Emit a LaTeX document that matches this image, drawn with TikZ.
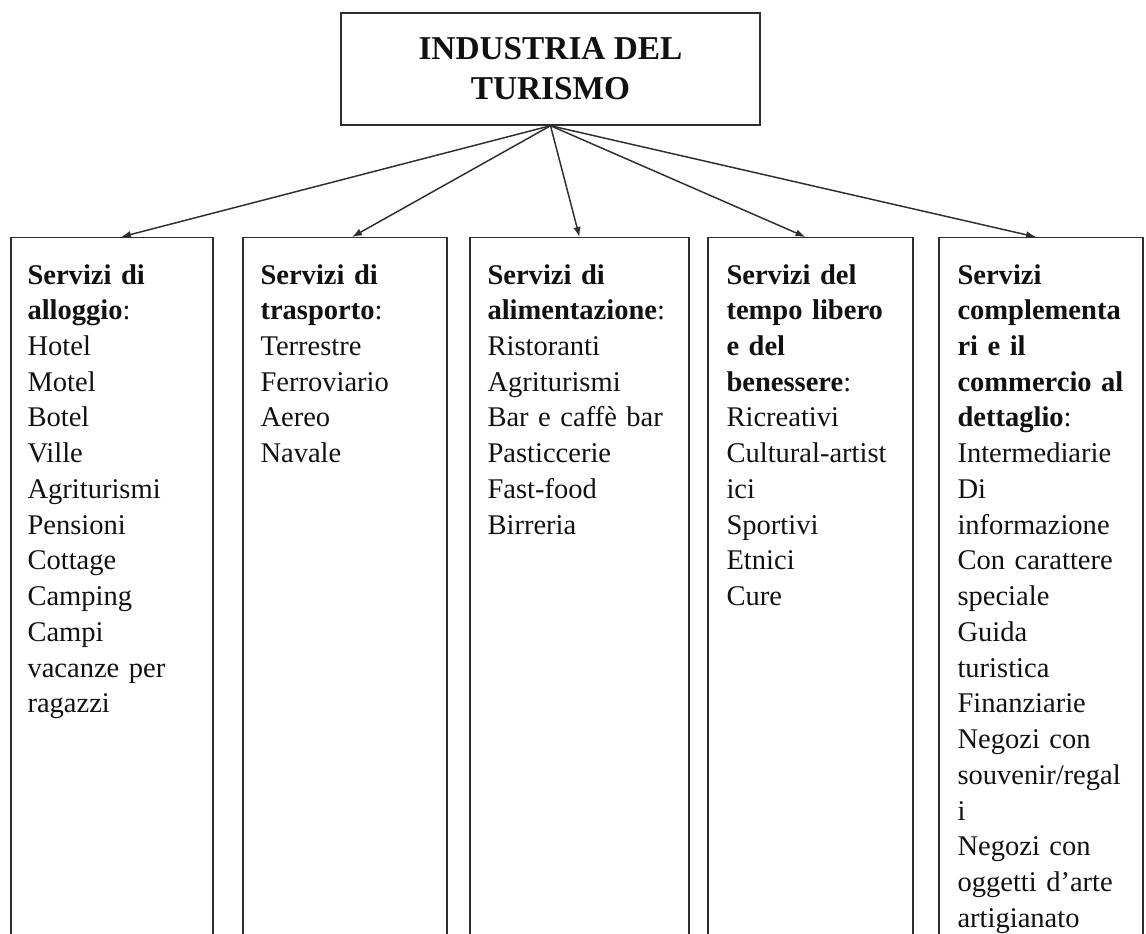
\documentclass[tikz,border=0pt]{standalone}
\usepackage{fontspec}
\setmainfont{Liberation Serif}
\usepackage{xcolor}
\usetikzlibrary{arrows.meta}
\definecolor{schemaink}{HTML}{111111}
\definecolor{schemaline}{HTML}{2E2E2E}

\begin{document}
\begin{tikzpicture}[x=0.75pt, y=-0.75pt, >={Latex[length=7.5pt,width=5.5pt]},
                    every node/.style={schemaink},
                    titolo/.style={draw=schemaline, line width=1.1pt, align=center,
                      minimum width=314.25pt, minimum height=84pt,
                      font=\fontsize{25pt}{30pt}\selectfont\bfseries},
                    colonna/.style={draw=schemaline, line width=1.1pt, anchor=north,
                      minimum height=600pt},
                    voce/.style={anchor=north west, inner sep=0pt, align=left,
                      font=\fontsize{21.4pt}{26.8pt}\selectfont},
                    freccia/.style={->, draw=schemaline, line width=1.1pt}]

  %% area visibile
  \clip (0,0) rectangle (1146,934);

  %% nodo principale
  \node[titolo] (turismo) at (550.5,69) {INDUSTRIA DEL\\TURISMO};

  %% colonne dei servizi
  \node[colonna, minimum width=151.5pt] (alloggio)    at (112,237) {};
  \node[colonna, minimum width=153pt]   (trasporto)   at (345,237) {};
  \node[colonna, minimum width=164.25pt] (alimentaz)  at (579.5,237) {};
  \node[colonna, minimum width=153.75pt] (tempolibero) at (810.5,237) {};
  \node[colonna, minimum width=153pt]   (complement)  at (1041,237) {};

  %% testi delle colonne
  \node[voce, text width=129pt] (alloggioTxt) at ([shift={(17,27)}]alloggio.north west)
    {\textbf{Servizi di}\\\textbf{alloggio}:\\Hotel\\Motel\\Botel\\Ville\\Agriturismi\\
     Pensioni\\Cottage\\Camping\\Campi\\vacanze per\\ragazzi};
  \node[voce, text width=130pt] (trasportoTxt) at ([shift={(18,27)}]trasporto.north west)
    {\textbf{Servizi di}\\\textbf{trasporto}:\\Terrestre\\Ferroviario\\Aereo\\Navale};
  \node[voce, text width=141pt] (alimentazTxt) at ([shift={(18,27)}]alimentaz.north west)
    {\textbf{Servizi di}\\\textbf{alimentazione}:\\Ristoranti\\Agriturismi\\
     Bar e caffè bar\\Pasticcerie\\Fast-food\\Birreria};
  \node[voce, text width=131pt] (tempoliberoTxt) at ([shift={(19,27)}]tempolibero.north west)
    {\textbf{Servizi del}\\\textbf{tempo libero}\\\textbf{e del}\\\textbf{benessere}:\\
     Ricreativi\\Cultural-artist\\ici\\Sportivi\\Etnici\\Cure};
  \node[voce, text width=131pt] (complementTxt) at ([shift={(19,27)}]complement.north west)
    {\textbf{Servizi}\\\textbf{complementa}\\\textbf{ri e il}\\\textbf{commercio al}\\
     \textbf{dettaglio}:\\Intermediarie\\Di\\informazione\\Con carattere\\speciale\\
     Guida\\turistica\\Finanziarie\\Negozi con\\souvenir/regal\\i\\Negozi con\\
     oggetti d’arte\\artigianato};

  %% frecce
  \draw[freccia] (turismo.south) -- ([shift={(9,0)}]alloggio.north);
  \draw[freccia] (turismo.south) -- ([shift={(7,0)}]trasporto.north);
  \draw[freccia] (turismo.south) -- (alimentaz.north);
  \draw[freccia] (turismo.south) -- ([shift={(-5,0)}]tempolibero.north);
  \draw[freccia] (turismo.south) -- ([shift={(-5,0)}]complement.north);

\end{tikzpicture}
\end{document}
